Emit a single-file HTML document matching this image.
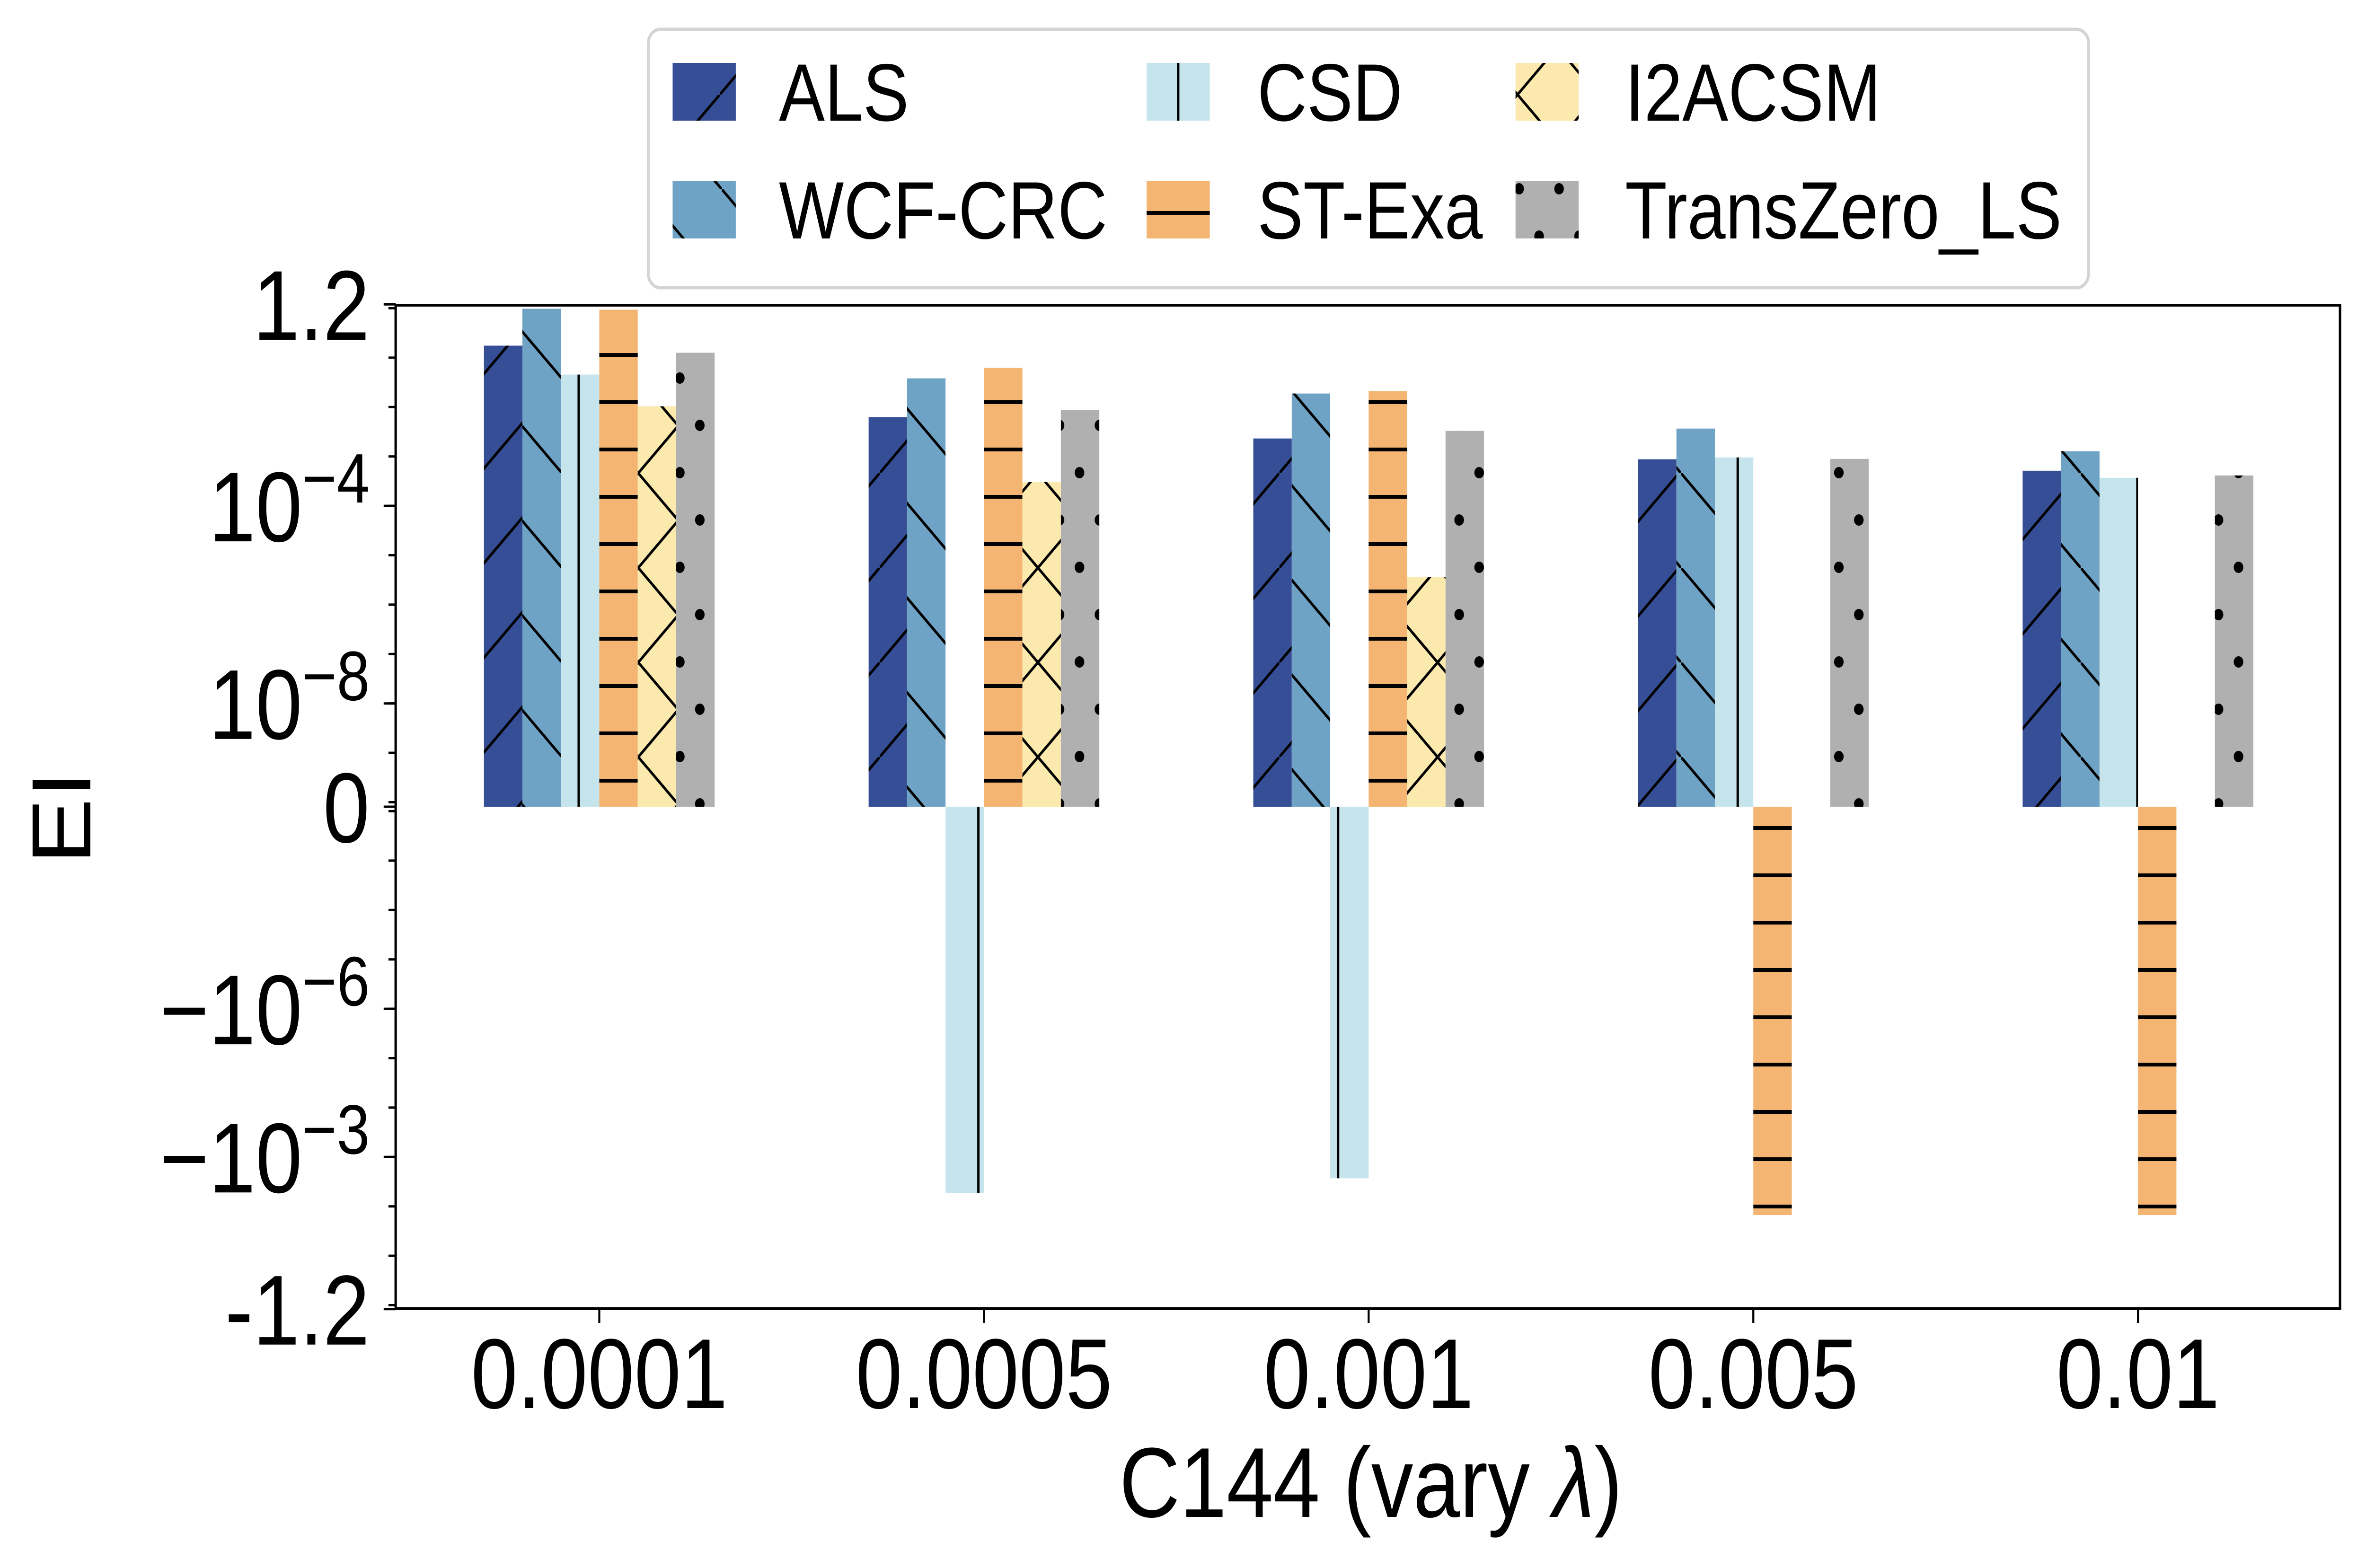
<!DOCTYPE html>
<html><head><meta charset="utf-8">
<style>
html,body{margin:0;padding:0;background:#fff;width:100%;height:100%;overflow:hidden;}
svg{display:block;width:100vw;height:100vh;}
text{font-family:"Liberation Sans","DejaVu Sans",sans-serif;fill:#000;}
</style></head>
<body>
<svg id="chart" xmlns="http://www.w3.org/2000/svg" viewBox="0 0 5920 3314" preserveAspectRatio="none">
<defs>
  <pattern id="hatch-als" patternUnits="userSpaceOnUse" x="1" y="0" width="200" height="200">
    <rect width="200" height="200" fill="#354e96"/>
    <path d="M-20,220 L220,-20" stroke="#000" stroke-width="6"/>
  </pattern>
  <pattern id="hatch-wcf" patternUnits="userSpaceOnUse" x="6" y="0" width="200" height="200">
    <rect width="200" height="200" fill="#6fa3c6"/>
    <path d="M-20,-20 L220,220" stroke="#000" stroke-width="6"/>
  </pattern>
  <pattern id="hatch-csd" patternUnits="userSpaceOnUse" x="-2" y="0" width="100" height="100">
    <rect width="100" height="100" fill="#c6e4ec"/>
    <path d="M50,-5 L50,105" stroke="#000" stroke-width="6"/>
  </pattern>
  <pattern id="hatch-st" patternUnits="userSpaceOnUse" x="0" y="0" width="100" height="100">
    <rect width="100" height="100" fill="#f4b572"/>
    <path d="M-5,50 L105,50" stroke="#000" stroke-width="8"/>
  </pattern>
  <pattern id="hatch-i2" patternUnits="userSpaceOnUse" x="-3" y="0" width="200" height="200">
    <rect width="200" height="200" fill="#fbe9ad"/>
    <path d="M-20,220 L220,-20 M-20,-20 L220,220" stroke="#000" stroke-width="6"/>
  </pattern>
  <pattern id="hatch-tz" patternUnits="userSpaceOnUse" x="1" y="-1" width="100" height="200">
    <rect width="100" height="200" fill="#b0b0b0"/>
    <circle cx="0" cy="0" r="12" fill="#000"/><circle cx="100" cy="0" r="12" fill="#000"/>
    <circle cx="0" cy="200" r="12" fill="#000"/><circle cx="100" cy="200" r="12" fill="#000"/>
    <circle cx="50" cy="100" r="12" fill="#000"/>
  </pattern>
</defs>
<g id="bars"></g>
<g id="axes"></g>
<g id="legend"></g>
</svg>
<script>
const categories = ["0.0001", "0.0005", "0.001", "0.005", "0.01"];
const seriesNames = ["ALS", "WCF-CRC", "CSD", "ST-Exa", "I2ACSM", "TransZero_LS"];
const alsValues = [0.175, 0.00624, 0.00231, 0.000875, 0.000514];
const wcfValues = [0.977, 0.0381, 0.0188, 0.00367, 0.00127];
const csdValues = [0.0455, -0.0054, -0.0027, 0.000955, 0.00037];
const stValues = [0.935, 0.0619, 0.0210, -0.015, -0.015];
const i2Values = [0.01035, 0.000303, 0.00000358, 0, 0];
const tzValues = [0.1256, 0.00869, 0.00329, 0.000893, 0.000412];
const yTickValues = [1.2, 1e-4, 1e-8, 0, -1e-6, -1e-3, -1.2];
const yTickLabels = [["1.2",""],["10","\u22124"],["10","\u22128"],["0",""],["\u221210","\u22126"],["\u221210","\u22123"],["-1.2",""]];

const NS = "http://www.w3.org/2000/svg";
const fills = ["url(#hatch-als)","url(#hatch-wcf)","url(#hatch-csd)","url(#hatch-st)","url(#hatch-i2)","url(#hatch-tz)"];
const allSeries = [alsValues, wcfValues, csdValues, stValues, i2Values, tzValues];
const AX_L = 990, AX_R = 5855, AX_T = 645, AX_B = 2766;
const Y0 = 1705, LIN = 9.5, DEC = 104.4, THR = 1e-10;
function yScale(v){
  if (v >= THR) return Y0 - LIN - DEC*(Math.log10(v)+10);
  if (v <= -THR) return Y0 + LIN + DEC*(Math.log10(-v)+10);
  return Y0 - v/THR*LIN;
}
const GAP = 962.5, X0 = 1499.5, BW = 96.2;
function xScale(i){ return X0 + GAP*i; }
function mk(tag, attrs, parent){ const e=document.createElementNS(NS,tag); for(const k in attrs) e.setAttribute(k,attrs[k]); parent.appendChild(e); return e; }

const barsG = document.getElementById('bars');
allSeries.forEach((vals, s) => {
  vals.forEach((v, i) => {
    if (v === 0) return;
    const x = xScale(i) + (s - 3) * BW;
    const y1 = yScale(v), y0 = yScale(0);
    const r = mk('rect', {x: x, y: Math.min(y0,y1), width: BW, height: Math.abs(y1-y0), fill: fills[s]}, barsG);
    
    
  });
});

const axG = document.getElementById('axes');
for (let e = -10; e <= 0; e++) {
  [1, -1].forEach(sg => {
    const y = yScale(sg*Math.pow(10,e));
    const t = mk('line', {x1: AX_L-18, x2: AX_L, y1: y, y2: y, stroke:'#000','stroke-width':5}, axG);
    
    
  });
}
yTickValues.forEach((v, k) => {
  const y = yScale(v);
  const t = mk('line', {x1: AX_L-30, x2: AX_L, y1: y, y2: y, stroke:'#000','stroke-width':5}, axG);
  
  
  const lab = yTickLabels[k];
  const tx = mk('text', {x: 925, y: y + 75, 'text-anchor':'end', 'font-size':210}, axG);
  
  
  const a = document.createElementNS(NS,'tspan'); a.textContent = lab[0]; tx.appendChild(a);
  if (lab[1]) { const b = document.createElementNS(NS,'tspan'); b.setAttribute('font-size',148); b.setAttribute('dy',-82); b.textContent = lab[1]; tx.appendChild(b); }
});
categories.forEach((c, i) => {
  const x = xScale(i);
  const t = mk('line', {x1:x, x2:x, y1:AX_B, y2:AX_B+30, stroke:'#000','stroke-width':5}, axG);
  
  
  const tx = mk('text', {x:x, y:2976, 'text-anchor':'middle','font-size':210}, axG);
  tx.textContent = c;
  
  
});
const frame = mk('rect', {x:AX_L, y:AX_T, width:AX_R-AX_L, height:AX_B-AX_T, fill:'none', stroke:'#000','stroke-width':6}, axG);


const xl = mk('text', {x:3430, y:3206, 'text-anchor':'middle','font-size':210}, axG);
xl.innerHTML = 'C144 (vary <tspan font-style="italic">λ</tspan>)';


const yl = mk('text', {x:0, y:0, 'text-anchor':'middle','font-size':210, transform:'translate(226,1728) rotate(-90)'}, axG);
yl.textContent = 'EI';



const lg = document.getElementById('legend');
const box = mk('rect', {x:1622, y:62, width:3604, height:546, rx:30, ry:30, fill:'#fff', stroke:'#d4d4d4','stroke-width':7}, lg);


const colPatch = [1683, 2869, 3792], colText = [1949, 3146, 4066], rowY = [133, 382];
const order = [[0,0,0],[1,0,1],[2,1,0],[3,1,1],[4,2,0],[5,2,1]];
order.forEach(([s,c,r]) => {
  const p = mk('rect', {x:colPatch[c], y:rowY[r], width:158, height:122, fill:fills[s]}, lg);
  
  
  const t = mk('text', {x:colText[c], y:rowY[r]+122, 'font-size':172}, lg);
  t.textContent = seriesNames[s];
  
  
});
</script>
</body></html>
